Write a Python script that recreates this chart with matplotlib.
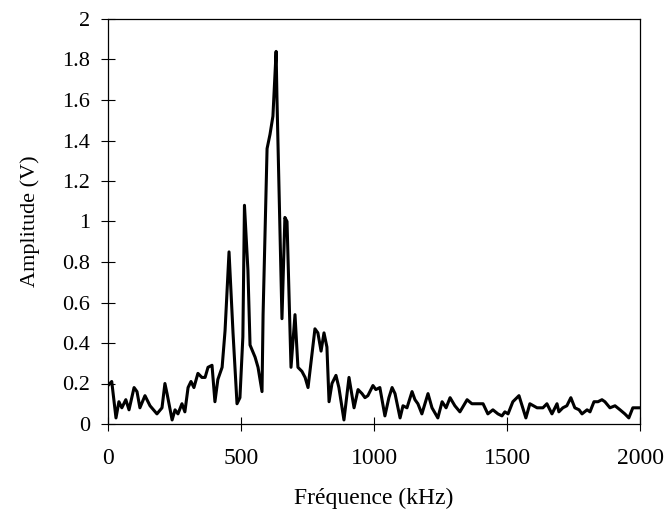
import matplotlib
matplotlib.use("Agg")
import matplotlib.pyplot as plt
from matplotlib.ticker import FuncFormatter

plt.rcParams['font.family'] = ['Liberation Serif', 'DejaVu Serif']

freq_khz = [0, 14, 30, 41, 52, 67, 79, 98, 109, 120, 139, 158, 184, 203, 214, 222,
            241, 252, 263, 278, 289, 301, 312, 323, 338, 353, 365, 376, 391, 402,
            413, 429, 440, 455, 470, 485, 496, 507, 513, 526, 534, 553, 564, 579,
            583, 598, 609, 620, 632, 635, 654, 665, 673, 688, 703, 714, 729, 741,
            752, 778, 789, 801, 812, 823, 831, 842, 857, 868, 887, 906, 925, 940,
            955, 966, 977, 996, 1007, 1022, 1041, 1056, 1068, 1079, 1098, 1109,
            1124, 1143, 1154, 1165, 1180, 1203, 1218, 1240, 1256, 1271, 1286,
            1304, 1323, 1350, 1368, 1387, 1410, 1428, 1447, 1466, 1481, 1492,
            1504, 1522, 1545, 1571, 1586, 1613, 1635, 1650, 1669, 1688, 1695,
            1710, 1725, 1740, 1755, 1771, 1782, 1801, 1812, 1827, 1842, 1857,
            1868, 1887, 1906, 1925, 1943, 1958, 1973, 2000]
amplitude_v = [0.19, 0.21, 0.03, 0.11, 0.08, 0.12, 0.07, 0.18, 0.16, 0.08, 0.14, 0.09,
               0.05, 0.08, 0.20, 0.15, 0.02, 0.07, 0.05, 0.10, 0.06, 0.18, 0.21, 0.18,
               0.25, 0.23, 0.23, 0.28, 0.29, 0.11, 0.22, 0.28, 0.46, 0.85, 0.45, 0.10,
               0.13, 0.43, 1.08, 0.76, 0.39, 0.33, 0.28, 0.16, 0.54, 1.36, 1.43, 1.52,
               1.84, 1.62, 0.52, 1.02, 1.00, 0.28, 0.54, 0.28, 0.26, 0.23, 0.18, 0.47,
               0.45, 0.36, 0.45, 0.38, 0.11, 0.20, 0.24, 0.18, 0.02, 0.23, 0.08, 0.17,
               0.15, 0.13, 0.14, 0.19, 0.17, 0.18, 0.04, 0.13, 0.18, 0.15, 0.03, 0.09,
               0.08, 0.16, 0.12, 0.10, 0.05, 0.15, 0.08, 0.03, 0.11, 0.08, 0.13, 0.09,
               0.06, 0.12, 0.10, 0.10, 0.10, 0.05, 0.07, 0.05, 0.04, 0.06, 0.05, 0.11,
               0.14, 0.03, 0.10, 0.08, 0.08, 0.10, 0.05, 0.10, 0.06, 0.08, 0.09, 0.13,
               0.08, 0.07, 0.05, 0.07, 0.06, 0.11, 0.11, 0.12, 0.11, 0.08, 0.09, 0.07,
               0.05, 0.03, 0.08, 0.08]

x_ticks = [0, 500, 1000, 1500, 2000]
y_ticks = [0, 0.2, 0.4, 0.6, 0.8, 1, 1.2, 1.4, 1.6, 1.8, 2]

fig = plt.figure(figsize=(6.7, 5.21), dpi=100)
ax = fig.add_axes([108/670, 97/521, 532/670, 405/521])
ax.plot(freq_khz, amplitude_v, color='black', linewidth=2.2, solid_joinstyle='round')
ax.set_xlim(0, 2000)
ax.set_ylim(0, 2)
ax.set_xticks(x_ticks)
ax.set_yticks(y_ticks)
ax.yaxis.set_major_formatter(FuncFormatter(lambda v, p: f"{v:g}"))
ax.tick_params(axis='both', direction='inout', length=10, width=0.8, colors='black')
ax.tick_params(axis='x', pad=12, labelsize=17)
ax.tick_params(axis='y', pad=8, labelsize=16)
for s in ax.spines.values():
    s.set_linewidth(0.9)
ax.set_xlabel('Fréquence (kHz)', fontsize=17, labelpad=14)
ax.set_ylabel('Amplitude (V)', fontsize=16, labelpad=16)
fig.savefig('out.png', dpi=100)
